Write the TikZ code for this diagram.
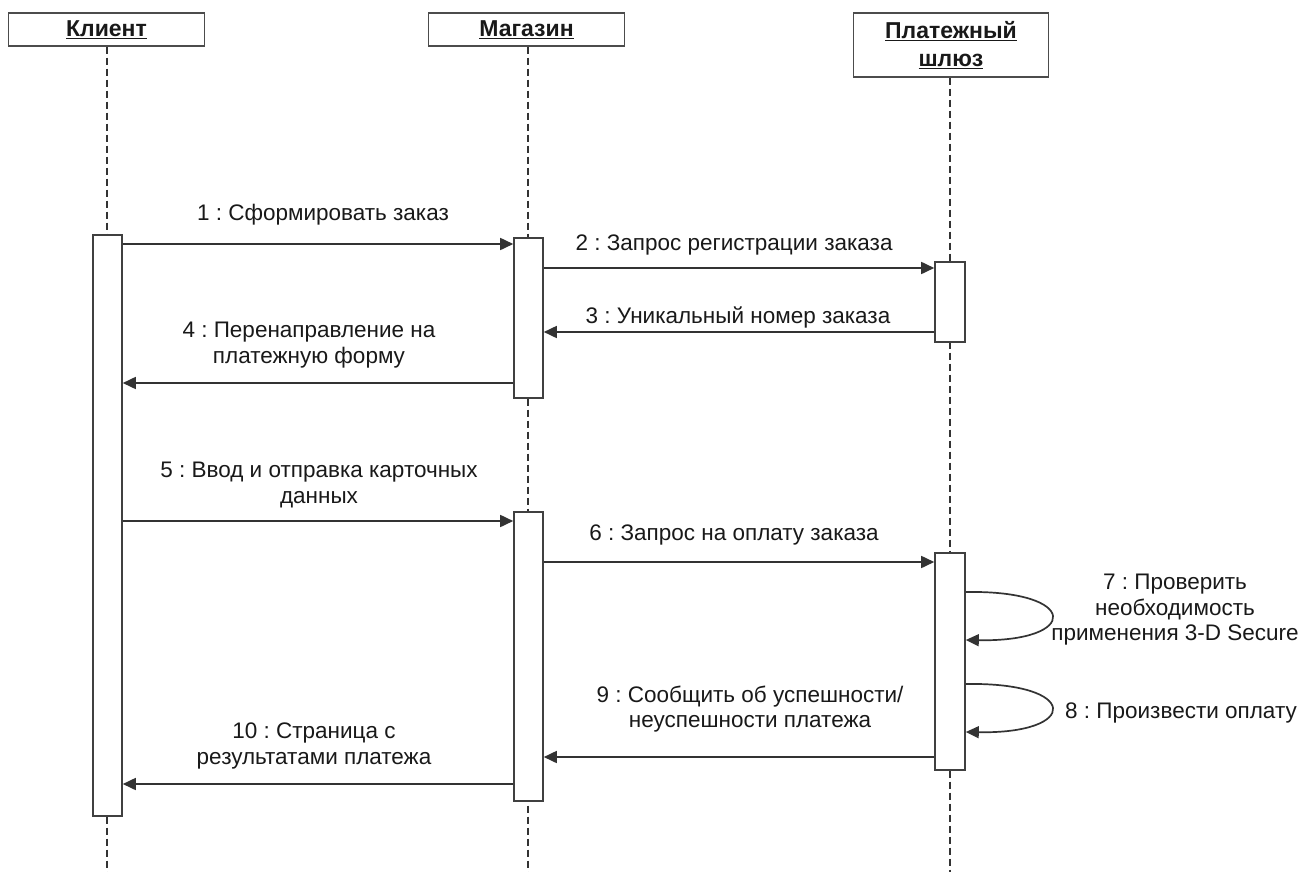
\documentclass[tikz,border=0pt]{standalone}
\usepackage{fontspec}
\setmainfont{Liberation Sans}
\usetikzlibrary{arrows.meta}
\frenchspacing
\begin{document}
\begin{tikzpicture}[x=1pt,y=-1pt,
  txt/.style={font=\fontsize{22.5}{25.5}\selectfont, align=center, inner sep=0pt, text=black!90},
  head/.style={draw=black!70, line width=1.6pt, fill=white, minimum width=196pt, font=\fontsize{23}{28}\selectfont\bfseries, align=center, inner sep=0pt, text=black!90},
  bar/.style={draw=black!75, line width=1.6pt, fill=white, minimum width=29pt, inner sep=0pt, anchor=north},
  life/.style={draw=black!80, line width=1.3pt, dash pattern=on 7pt off 4pt},
  msg/.style={draw=black!80, line width=1.7pt, -{Triangle[length=13pt,width=12pt]}}
]
\path[fill=white] (0,0) rectangle (1303,872);
\useasboundingbox (0,0) rectangle (1303,872);

% headers
\node[head, minimum height=33pt, anchor=north] (hc) at (106.5,12) {\underline{Клиент}};
\node[head, minimum height=33pt, anchor=north] (hs) at (526.5,12) {\underline{Магазин}};
\node[head, minimum height=64pt, anchor=north, minimum width=195pt] (hg) at (951,12) {\underline{Платежный}\\\underline{шлюз}};

% lifeline ends
\coordinate (ec) at (107,872);
\coordinate (es) at (528,872);
\coordinate (eg) at (950,872);
\draw[life] (hc.south -| ec) -- (ec);
\draw[life] (hs.south -| es) -- (es);
\draw[life] (hg.south -| eg) -- (eg);

% activation bars
\node[bar, minimum height=581pt] (c1) at (107.5,234) {};
\node[bar, minimum height=160pt] (s1) at (528.5,237) {};
\node[bar, minimum height=80pt, minimum width=30pt] (g1) at (950,261) {};
\node[bar, minimum height=289pt] (s2) at (528.5,511) {};
\node[bar, minimum height=217pt, minimum width=30pt] (g2) at (950,552) {};

% messages
\draw[msg] (c1.east |- 0,244) -- (s1.west |- 0,244);
\node[txt] (l1) at (323,215) {1 : Сформировать заказ};

\draw[msg] (s1.east |- 0,268) -- (g1.west |- 0,268);
\node[txt] (l2) at (734,245) {2 : Запрос регистрации заказа};

\draw[msg] (g1.west |- 0,332) -- (s1.east |- 0,332);
\node[txt] (l3) at (738,317) {3 : Уникальный номер заказа};

\draw[msg] (s1.west |- 0,383) -- (c1.east |- 0,383);
\node[txt] (l4) at (309,345) {4 : Перенаправление на\\платежную форму};

\draw[msg] (c1.east |- 0,521) -- (s2.west |- 0,521);
\node[txt] (l5) at (319,485) {5 : Ввод и отправка карточных\\данных};

\draw[msg] (s2.east |- 0,562) -- (g2.west |- 0,562);
\node[txt] (l6) at (734,535) {6 : Запрос на оплату заказа};

\draw[msg] (g2.east |- 0,592) .. controls (1080,590) and (1080,642) .. (g2.east |- 0,640);
\node[txt] (l7) at (1175,610) {7 : Проверить\\необходимость\\применения 3-D Secure};

\draw[msg] (g2.east |- 0,684) .. controls (1080,682) and (1080,734) .. (g2.east |- 0,732);
\node[txt] (l8) at (1181,713) {8 : Произвести оплату};

\draw[msg] (g2.west |- 0,757) -- (s2.east |- 0,757);
\node[txt] (l9) at (750,709) {9 : Сообщить об успешности/\\неуспешности платежа};

\draw[msg] (s2.west |- 0,784) -- (c1.east |- 0,784);
\node[txt] (l10) at (314,746) {10 : Страница с\\результатами платежа};
\end{tikzpicture}
\end{document}
